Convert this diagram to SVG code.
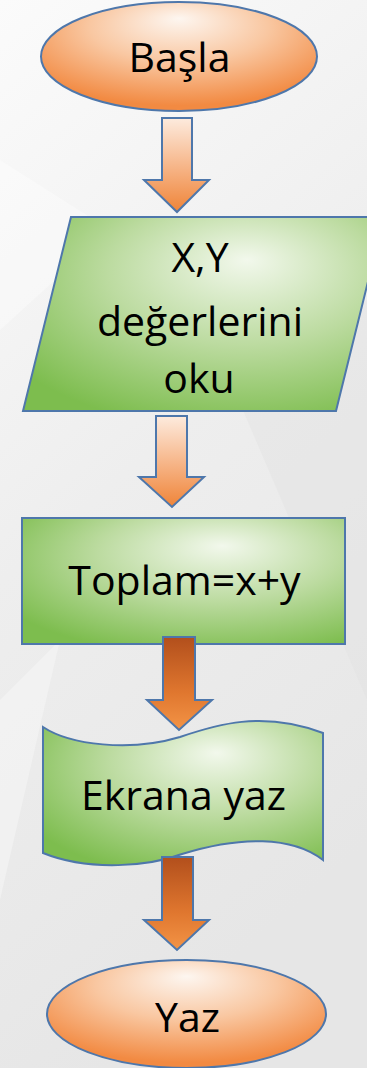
<svg xmlns="http://www.w3.org/2000/svg" width="367" height="1068" viewBox="0 0 367 1068">
  <defs>
    <linearGradient id="bg" x1="0" y1="0" x2="0.3" y2="1">
      <stop offset="0" stop-color="#fbfbfb"/>
      <stop offset="0.5" stop-color="#eeeeee"/>
      <stop offset="1" stop-color="#e6e6e6"/>
    </linearGradient>
    <radialGradient id="orange" cx="0.5" cy="0.3" r="0.65" fx="0.5" fy="0.15">
      <stop offset="0" stop-color="#fdf6f0"/>
      <stop offset="0.5" stop-color="#f9c7a1"/>
      <stop offset="1" stop-color="#f28a42"/>
    </radialGradient>
    <radialGradient id="green" cx="0.6" cy="0.35" r="0.75" fx="0.62" fy="0.22">
      <stop offset="0" stop-color="#f2f8ec"/>
      <stop offset="0.5" stop-color="#bcdba0"/>
      <stop offset="1" stop-color="#7dbd4e"/>
    </radialGradient>
    <linearGradient id="arrowLight" x1="0" y1="0" x2="0" y2="1">
      <stop offset="0" stop-color="#fdebde"/>
      <stop offset="0.55" stop-color="#f6b283"/>
      <stop offset="1" stop-color="#ef8438"/>
    </linearGradient>
    <linearGradient id="arrowDark" x1="0" y1="0" x2="0" y2="1">
      <stop offset="0" stop-color="#b24f1c"/>
      <stop offset="0.6" stop-color="#e0772f"/>
      <stop offset="1" stop-color="#f39446"/>
    </linearGradient>
  </defs>
  <style>
    .shape { stroke: #4e77ab; stroke-width: 2; }
    .arrow { stroke: #4e77ab; stroke-width: 2; stroke-linejoin: miter; }
    .label { font-family: "Open Sans", "Liberation Sans", sans-serif; font-size: 41px; fill: #000000; text-anchor: middle; }
  </style>

  <rect x="0" y="0" width="367" height="1068" fill="url(#bg)"/>
  <polygon points="0,160 110,230 0,330" fill="#ffffff" opacity="0.35"/>
  <polygon points="230,380 367,300 367,700" fill="#e2e2e2" opacity="0.4"/>
  <polygon points="0,700 60,640 0,900" fill="#f7f7f7" opacity="0.5"/>

  <g id="node-basla">
    <ellipse class="shape" cx="179" cy="56.5" rx="138" ry="54.5" fill="url(#orange)"/>
    <text class="label" x="179.5" y="72">Başla</text>
  </g>

  <g id="node-oku">
    <polygon class="shape" points="71,217 384,217 336,411 23,411" fill="url(#green)"/>
    <text class="label" x="200" y="272">X,Y</text>
    <text class="label" x="200" y="336">değerlerini</text>
    <text class="label" x="199" y="393">oku</text>
  </g>

  <g id="node-toplam">
    <rect class="shape" x="22" y="518" width="323" height="126" fill="url(#green)"/>
    <text class="label" x="184.5" y="595">Toplam=x+y</text>
  </g>

  <g id="node-ekrana">
    <path class="shape" d="M43,727 C70,745 130,752 180,737 C215,725 262,710 323,733 L323,860 C292,836 240,836 182,854 C150,866 90,872 43,853 Z" fill="url(#green)"/>
    <text class="label" x="183.5" y="810">Ekrana yaz</text>
  </g>

  <g id="node-yaz">
    <ellipse class="shape" cx="186.5" cy="1014" rx="139.5" ry="54" fill="url(#orange)"/>
    <text class="label" x="187.5" y="1032">Yaz</text>
  </g>

  <g id="connectors">
    <polygon class="arrow" points="162,118 192,118 192,180 209,180 177,212 144,180 162,180" fill="url(#arrowLight)"/>
    <polygon class="arrow" points="156,416 187,416 187,477 204,477 172,507 139,477 156,477" fill="url(#arrowLight)"/>
    <polygon class="arrow" points="163,637 195,637 195,700 212,700 179,730 147,700 163,700" fill="url(#arrowDark)"/>
    <polygon class="arrow" points="162,857 193,857 193,920 209,920 177,950 144,920 162,920" fill="url(#arrowDark)"/>
  </g>
</svg>
